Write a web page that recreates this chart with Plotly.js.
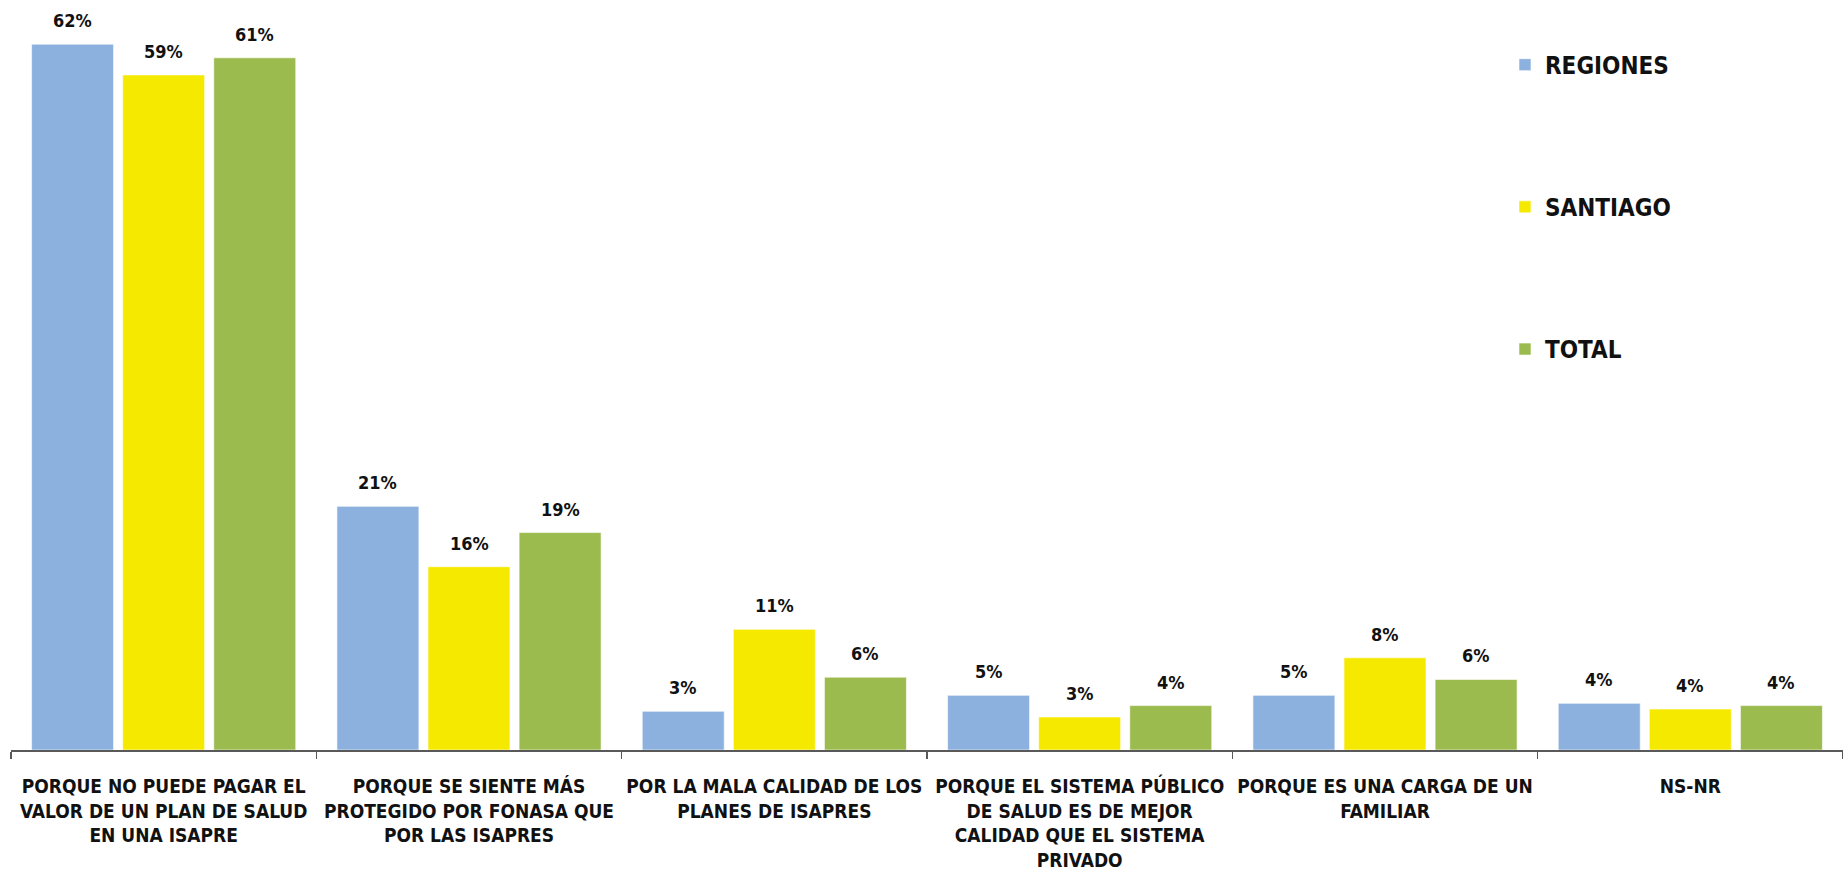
<!DOCTYPE html>
<html>
<head>
<meta charset="utf-8">
<script src="https://cdn.plot.ly/plotly-3.0.1.min.js"></script>
<style>
  html, body { margin: 0; padding: 0; background: #ffffff; }
  #chart { width: 1843px; height: 870px; }
</style>
</head>
<body>
<div id="chart"></div>
<script>
// ---- data ----
const categories = [
  "PORQUE NO PUEDE PAGAR EL<br>VALOR DE UN PLAN DE SALUD<br>EN UNA ISAPRE",
  "PORQUE SE SIENTE MÁS<br>PROTEGIDO POR FONASA QUE<br>POR LAS ISAPRES",
  "POR LA MALA CALIDAD DE LOS<br>PLANES DE ISAPRES",
  "PORQUE EL SISTEMA PÚBLICO<br>DE SALUD ES DE MEJOR<br>CALIDAD QUE EL SISTEMA<br>PRIVADO",
  "PORQUE ES UNA CARGA DE UN<br>FAMILIAR",
  "NS-NR"
];
const seriesNames = ["REGIONES", "SANTIAGO", "TOTAL"];
const regiones = [62.0, 21.4, 3.4, 4.8, 4.8, 4.1];
const santiago = [59.3, 16.1, 10.6, 2.9, 8.1, 3.6];
const total    = [60.8, 19.1, 6.4, 3.9, 6.2, 3.9];
const regionesLabels = ["62%", "21%", "3%", "5%", "5%", "4%"];
const santiagoLabels = ["59%", "16%", "11%", "3%", "8%", "4%"];
const totalLabels    = ["61%", "19%", "6%", "4%", "6%", "4%"];

// ---- styling ----
const colors = ["#8DB1DE", "#F5E900", "#9BBB4E"];
const seriesValues = [regiones, santiago, total];
const seriesLabels = [regionesLabels, santiagoLabels, totalLabels];
const FONT = "'DejaVu Sans Condensed', 'Liberation Sans', sans-serif";
const bargap = 0.105;
const nSeries = seriesNames.length;
const slot = (1 - bargap) / nSeries;

const xIdx = categories.map((_, i) => i);
const boundaries = categories.map((_, i) => i - 0.5).concat([categories.length - 0.5]);

const traces = seriesNames.map((name, k) => ({
  type: "bar",
  name: name,
  x: xIdx,
  y: seriesValues[k],
  marker: { color: colors[k], line: { color: "rgba(255,255,255,0.6)", width: 1 } },
  legendgroup: "g" + k,
  hoverinfo: "skip"
}));

const annotations = [];
seriesNames.forEach((name, k) => {
  seriesValues[k].forEach((v, i) => {
    annotations.push({
      x: i + (k - (nSeries - 1) / 2) * slot,
      y: v,
      xref: "x", yref: "y",
      text: "<b>" + seriesLabels[k][i] + "</b>",
      showarrow: false,
      yanchor: "bottom",
      yshift: 11,
      font: { family: FONT, size: 18, color: "#111111" }
    });
  });
});

const layout = {
  width: 1843,
  height: 870,
  margin: { l: 11, r: 0, t: 10, b: 120 },
  paper_bgcolor: "#ffffff",
  plot_bgcolor: "#ffffff",
  barmode: "group",
  bargap: bargap,
  bargroupgap: 0.1,
  showlegend: true,
  legend: {
    x: 0.8155, y: 0.956, xanchor: "left", yanchor: "top",
    traceorder: "grouped",
    tracegroupgap: 108,
    font: { family: FONT, size: 24, color: "#111111", weight: "bold" },
    itemwidth: 30,
    bgcolor: "rgba(0,0,0,0)"
  },
  xaxis: {
    type: "linear",
    range: [-0.5, categories.length - 0.5],
    tickmode: "array",
    tickvals: xIdx,
    ticktext: categories,
    tickangle: 0,
    ticks: "",
    showline: true,
    linecolor: "#595959",
    linewidth: 2,
    showgrid: false,
    zeroline: false,
    minor: {
      tickmode: "array",
      tickvals: boundaries,
      ticks: "outside",
      ticklen: 7,
      tickwidth: 1.5,
      tickcolor: "#595959",
      showgrid: false
    },
    tickfont: { family: FONT, size: 19, color: "#111111", weight: "bold" },
    ticklabelstandoff: 18,
    fixedrange: true
  },
  yaxis: {
    range: [0, 65],
    visible: false,
    showgrid: false,
    zeroline: false,
    fixedrange: true
  },
  annotations: annotations
};

Plotly.newPlot("chart", traces, layout, { displayModeBar: false, staticPlot: true });
</script>
</body>
</html>
